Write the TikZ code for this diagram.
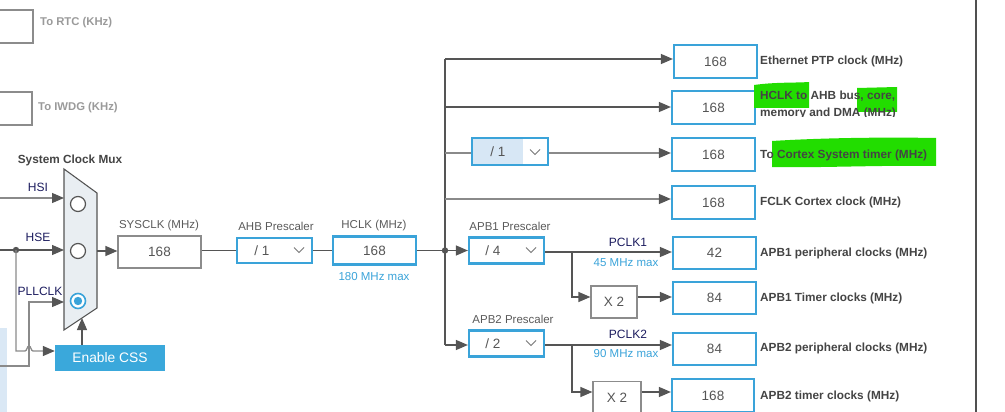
\documentclass[tikz,border=0pt]{standalone}
\usepackage{fontspec}
\setmainfont{Liberation Sans}
\usetikzlibrary{arrows.meta}
\definecolor{lineC}{HTML}{555555}
\definecolor{lineL}{HTML}{8A8A8A}
\definecolor{boxBlue}{HTML}{3AA3D9}
\definecolor{boxGrey}{HTML}{8C8C8C}
\definecolor{numC}{HTML}{555555}
\definecolor{labelC}{HTML}{5A5A5A}
\definecolor{rtxt}{HTML}{444444}
\definecolor{fadeC}{HTML}{9A9A9A}
\definecolor{navyC}{HTML}{1B1B5E}
\definecolor{greenH}{HTML}{22DD00}
\definecolor{panelC}{HTML}{DAE8F5}
\definecolor{muxC}{HTML}{E9EEF2}
\definecolor{cssC}{HTML}{3AA8DB}
\definecolor{divC}{HTML}{D7E7F5}
\definecolor{chevC}{HTML}{777777}
\definecolor{vlineC}{HTML}{505050}
\begin{document}
\begin{tikzpicture}[x=1pt,y=-1pt,
  bluebox/.style={draw=boxBlue, line width=2.2pt, fill=white, inner sep=0pt,
    font=\fontsize{13.5}{15}\selectfont, text=numC},
  greybox/.style={draw=boxGrey, line width=1.2pt, fill=white, inner sep=0pt,
    font=\fontsize{13.5}{15}\selectfont, text=numC},
  numtxt/.style={inner sep=0pt, font=\fontsize{13.5}{15}\selectfont, text=numC},
  lbl/.style={inner sep=0pt, font=\fontsize{11.5}{13}\selectfont, text=labelC},
  rlbl/.style={anchor=west, inner sep=0pt, font=\fontsize{11.8}{14}\selectfont\bfseries, text=rtxt},
  fadelbl/.style={anchor=west, inner sep=0pt, font=\fontsize{11.3}{13}\selectfont\bfseries, text=fadeC},
  navylbl/.style={inner sep=0pt, font=\fontsize{12}{14}\selectfont, text=navyC},
  maxlbl/.style={inner sep=0pt, font=\fontsize{11.5}{13}\selectfont, text=boxBlue},
  wire/.style={draw=lineC, line width=1.3pt},
  wirel/.style={draw=lineL, line width=1.3pt},
  arr/.style={wire, -{Triangle[length=12pt,width=10pt]}},
  arrl/.style={wirel, -{Triangle[length=12pt,width=10pt,color=lineC]}},
  chev/.pic={\draw[draw=chevC, line width=0.9pt] (-5,-2.5) -- (0,2.5) -- (5,-2.5);},
  radio/.style={draw=lineC, line width=1.2pt, fill=white}
]
\useasboundingbox (0,0) rectangle (1005,412);
\clip (0,0) rectangle (1005,412);

% ---------- left top boxes ----------
\node[greybox, minimum width=34pt, minimum height=33pt] (rtc) at (16,26.5) {};
\node[fadelbl] (rtcl) at (40,23) {To RTC (KHz)};
\node[greybox, minimum width=33pt, minimum height=33pt] (iwdg) at (15.5,108.5) {};
\node[fadelbl] (iwdgl) at (38,108) {To IWDG (KHz)};

% ---------- left panel ----------
\fill[panelC] (0,328) rectangle (7,412);

% ---------- mux ----------
\node[inner sep=0pt, font=\fontsize{11.8}{14}\selectfont\bfseries, text=rtxt] (muxl) at (70,160) {System Clock Mux};
\draw[draw=lineC, line width=1.1pt, fill=muxC] (64,169) -- (97,193) -- (97,308) -- (64,330) -- cycle;
\node[radio, circle, minimum size=15pt, inner sep=0pt] (r1) at (78,204) {};
\node[radio, circle, minimum size=15pt, inner sep=0pt] (r2) at (78,251) {};
\node[circle, draw=boxBlue, line width=1.6pt, fill=white, minimum size=15pt, inner sep=0pt] (r3) at (78,301) {};
\fill[boxBlue] (r3.center) circle (4.2);

\node[navylbl] (hsi) at (38,187) {HSI};
\node[navylbl] (hse) at (38,237) {HSE};
\node[navylbl] (pll) at (40,291) {PLLCLK};

\coordinate (hsiin) at (0,198);
\coordinate (hsiend) at (64,198);
\coordinate (hsein) at (0,250);
\coordinate (hsedot) at (16,250);
\coordinate (hseend) at (64,250);
\coordinate (pllin) at (0,366);
\coordinate (pllc1) at (29,366);
\coordinate (pllc2) at (29,302);
\coordinate (pllend) at (64,302);
\coordinate (cssc1) at (16,351);
\coordinate (muxbot) at (82,318);

\draw[arrl] (hsiin) -- (hsiend);
\draw[arr] (hsein) -- (hseend);
\fill[lineC] (hsedot) circle (3.2);
\draw[arrl] (pllin) -- (pllc1) -- (pllc2) -- (pllend);

\node[fill=cssC, text=white, inner sep=0pt, minimum width=110pt, minimum height=26pt,
  font=\fontsize{13.8}{15}\selectfont] (css) at (110,358) {Enable CSS};
\draw[arrl] (hsedot) -- (cssc1) -- (25,351) .. controls (27,351) and (27,346) .. (29,346)
  .. controls (31,346) and (31,351) .. (33,351) -- (css.west |- cssc1);
\draw[arr] (muxbot |- css.north) -- (muxbot);

% ---------- SYSCLK / AHB / HCLK ----------
\node[greybox, minimum width=83pt, minimum height=32pt] (sys) at (159.5,252) {168};
\node[lbl] (sysl) at (159,226) {SYSCLK (MHz)};
\node[bluebox, minimum width=75pt, minimum height=25pt] (ahb) at (274.5,250.5) {};
\node[numtxt] (ahbt) at (262,251) {/ 1};
\pic at (299,250) {chev};
\node[lbl] (ahbl) at (276,226) {AHB Prescaler};
\node[bluebox, minimum width=83pt, minimum height=28pt] (hclk) at (374.5,250.5) {168};
\node[lbl] (hclkl) at (374,226) {HCLK (MHz)};
\node[maxlbl] (hclkm) at (374,277) {180 MHz max};

\coordinate (muxout) at (97,251);
\draw[arr] (muxout) -- (muxout -| sys.west);
\draw[wire] (sys.east |- ahb.west) -- (ahb.west);
\draw[wire] (ahb.east) -- (hclk.west);

% ---------- right boxes ----------
\node[bluebox, minimum width=83pt, minimum height=33pt] (eth) at (715.5,61.5) {168};
\node[bluebox, minimum width=83pt, minimum height=33pt] (hab) at (713.5,107.5) {168};
\node[bluebox, minimum width=83pt, minimum height=33pt] (ctx) at (713.5,154.5) {168};
\node[bluebox, minimum width=83pt, minimum height=33pt] (fclk) at (713.5,202.5) {168};
\node[bluebox, minimum width=83pt, minimum height=32pt] (a1p) at (714.5,253) {42};
\node[bluebox, minimum width=83pt, minimum height=32pt] (a1t) at (714.5,298) {84};
\node[bluebox, minimum width=83pt, minimum height=32pt] (a2p) at (714.5,349) {84};
\node[bluebox, minimum width=82pt, minimum height=33pt] (a2t) at (713,395.5) {168};

% green highlights
\fill[greenH] (754,85) .. controls (775,82) and (795,83) .. (809,82) -- (809,108) -- (754,108) -- cycle;
\fill[greenH] (857,88) -- (897,87) -- (897,112) -- (857,112) -- cycle;
\fill[greenH] (772,141) .. controls (820,138) and (880,137) .. (936,138) -- (936,166) .. controls (880,165) and (820,168) .. (772,167) -- cycle;

\node[rlbl] (ethl) at (760,61) {Ethernet PTP clock (MHz)};
\node[rlbl] (habl) at (760,96) {HCLK to AHB bus, core,};
\begin{scope}
  \clip (750,100) rectangle (970,117);
  \node[rlbl] (habl2) at (760,113) {memory and DMA (MHz)};
\end{scope}
\node[rlbl] (ctxl) at (760,155) {To Cortex System timer (MHz)};
\node[rlbl] (fclkl) at (760,202) {FCLK Cortex clock (MHz)};
\node[rlbl] (a1pl) at (760,253) {APB1 peripheral clocks (MHz)};
\node[rlbl] (a1tl) at (760,298) {APB1 Timer clocks (MHz)};
\node[rlbl] (a2pl) at (760,348) {APB2 peripheral clocks (MHz)};
\node[rlbl] (a2tl) at (760,396) {APB2 timer clocks (MHz)};

% ---------- bus ----------
\coordinate (bt) at (445,59);
\coordinate (bh) at (445,107);
\coordinate (bc) at (445,153);
\coordinate (bf) at (445,199);
\coordinate (bj) at (445,250.5);
\coordinate (bb) at (445,345);

\draw[wire] (hclk.east) -- (bj);
\draw[wire] (bt) -- (bb);
\fill[lineC] (bj) circle (3.2);
\draw[arr] (bt) -- (bt -| eth.west);
\draw[arr] (bh) -- (bh -| hab.west);

% cortex divider
\fill[divC] (472,138) rectangle (523,165);
\node[bluebox, fill=none, minimum width=76pt, minimum height=27pt] (div) at (510,151.5) {};
\node[numtxt] (divt) at (498,152) {/ 1};
\pic at (535,152) {chev};
\draw[wirel] (bc) -- (bc -| div.west);
\draw[arrl] (bc -| div.east) -- (bc -| ctx.west);
\draw[arrl] (bf) -- (bf -| fclk.west);

% APB1
\node[bluebox, minimum width=75pt, minimum height=26pt] (apb1) at (506.5,250.5) {};
\node[numtxt] (apb1t) at (493,251) {/ 4};
\pic at (531,250) {chev};
\node[lbl] (apb1l) at (510,226) {APB1 Prescaler};
\draw[arr] (bj) -- (apb1.west);

\coordinate (p1) at (572,252);
\coordinate (p1d) at (572,297);
\node[greybox, minimum width=46pt, minimum height=32pt] (x2a) at (614,302) {X 2};
\draw[arr] (apb1.east |- p1) -- (p1 -| a1p.west);
\draw[arr] (p1) -- (p1d) -- (p1d -| x2a.west);
\draw[arr] (x2a.east |- p1d) -- (p1d -| a1t.west);
\node[navylbl] (pc1) at (628,242) {PCLK1};
\node[maxlbl] (m45) at (626,263) {45 MHz max};

% APB2
\node[bluebox, minimum width=75pt, minimum height=26pt] (apb2) at (506.5,343.5) {};
\node[numtxt] (apb2t) at (493,344) {/ 2};
\pic at (531,343) {chev};
\node[lbl] (apb2l) at (513,319) {APB2 Prescaler};
\draw[arr] (bb) -- (bb -| apb2.west);

\coordinate (p2) at (572,345);
\coordinate (p2d) at (572,392);
\node[greybox, minimum width=48pt, minimum height=33pt] (x2b) at (617,398) {X 2};
\draw[arr] (apb2.east |- p2) -- (p2 -| a2p.west);
\draw[arr] (p2) -- (p2d) -- (p2d -| x2b.west);
\draw[arr] (x2b.east |- p2d) -- (p2d -| a2t.west);
\node[navylbl] (pc2) at (628,334) {PCLK2};
\node[maxlbl] (m90) at (626,354) {90 MHz max};

% right vertical line
\draw[draw=vlineC, line width=2.6pt] (976,0) -- (976,412);
\end{tikzpicture}
\end{document}
